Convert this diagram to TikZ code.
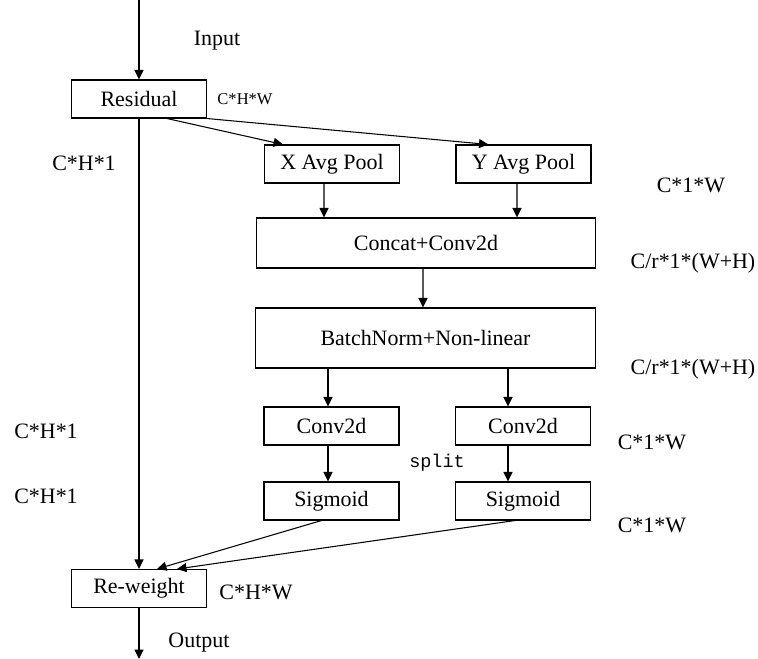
\documentclass[tikz,border=0pt]{standalone}
\usepackage{fontspec}
\setmainfont{Liberation Serif}
\setmonofont{Liberation Mono}
\usetikzlibrary{arrows.meta}
\tikzset{
  block/.style={draw, line width=0.6pt, inner sep=0pt, minimum width=2.7cm, minimum height=0.76cm,
    font=\fontsize{12.5}{14}\selectfont},
  wideblock/.style={block, minimum width=6.8cm},
  dimlabel/.style={inner sep=0pt, font=\fontsize{12.5}{14}\selectfont},
  flow/.style={line width=0.6pt, -{Triangle[length=1.9mm,width=1.8mm]}}
}
\begin{document}
\begin{tikzpicture}[x=0.02cm, y=-0.02cm]
\useasboundingbox (0,0) rectangle (758,659);
% boxes
\node[block] (residual) at (139,99) {Residual};
\node[block] (xpool) at (332,164) {X Avg Pool};
\node[block] (ypool) at (523.5,164) {Y Avg Pool};
\node[wideblock, minimum height=1cm] (concat) at (426,243) {Concat+Conv2d};
\node[wideblock, minimum height=1.2cm] (bn) at (425.5,338) {BatchNorm+Non-linear};
\node[block] (convx) at (331.5,426) {Conv2d};
\node[block] (convy) at (523,426) {Conv2d};
\node[block] (sigx) at (331.5,501) {Sigmoid};
\node[block] (sigy) at (523,501) {Sigmoid};
\node[block] (reweight) at (139,588.5) {Re-weight};
\coordinate (in) at (139,0);
\coordinate (out) at (139,659);
% labels
\node[dimlabel] (linput) at (217,41) {Input};
\node[dimlabel, font=\fontsize{9.4}{11}\selectfont] (lres) at (245,99) {C*H*W};
\node[dimlabel] (lh1) at (84,163) {C*H*1};
\node[dimlabel] (lw1) at (691,185) {C*1*W};
\node[dimlabel] (lwh1) at (693,263) {C/r*1*(W+H)};
\node[dimlabel] (lwh2) at (693,369) {C/r*1*(W+H)};
\node[dimlabel] (lh2) at (46,431) {C*H*1};
\node[dimlabel] (lw2) at (652,442) {C*1*W};
\node[dimlabel] (lh3) at (46,496) {C*H*1};
\node[dimlabel] (lw3) at (652,525) {C*1*W};
\node[dimlabel, font=\ttfamily\fontsize{10.5}{12}\selectfont] (lsplit) at (437,463) {split};
\node[dimlabel] (lout) at (256,592) {C*H*W};
\node[dimlabel] (loutput) at (199,643) {Output};
% connectors
\draw[flow] (in) -- (residual);
\draw[flow] (residual) -- (reweight);
\draw[flow] ([xshift=0.56cm]residual.south) -- ([xshift=-0.98cm]xpool.north);
\draw[flow] (residual.south east) -- ([xshift=-0.7cm]ypool.north);
\draw[flow] ([xshift=-0.16cm]xpool.south) -- ([xshift=-2.04cm]concat.north);
\draw[flow] ([xshift=-0.13cm]ypool.south) -- ([xshift=1.82cm]concat.north);
\draw[flow] ([xshift=-0.06cm]concat.south) -- ([xshift=-0.05cm]bn.north);
\draw[flow] ([xshift=-0.07cm]convx.north |- bn.south) -- ([xshift=-0.07cm]convx.north);
\draw[flow] ([xshift=-0.3cm]convy.north |- bn.south) -- ([xshift=-0.3cm]convy.north);
\draw[flow] ([xshift=-0.07cm]convx.south) -- ([xshift=-0.07cm]sigx.north);
\draw[flow] ([xshift=-0.3cm]convy.south) -- ([xshift=-0.3cm]sigy.north);
\draw[flow] ([xshift=-0.2cm]sigx.south) -- ([xshift=0.36cm]reweight.north);
\draw[flow] ([xshift=-0.16cm]sigy.south) -- ([xshift=0.76cm]reweight.north);
\draw[flow] (reweight) -- (out);
\end{tikzpicture}
\end{document}
